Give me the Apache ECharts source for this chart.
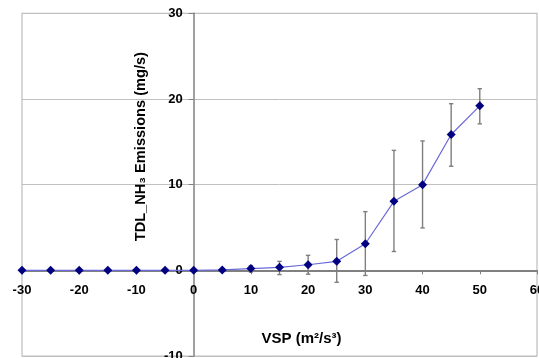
<!DOCTYPE html>
<html>
<head>
<meta charset="utf-8">
<script src="https://cdn.jsdelivr.net/npm/echarts@6/dist/echarts.min.js"></script>
<style>
  html, body { margin: 0; padding: 0; background: #fff; }
  #chart { width: 539px; height: 358px; }
</style>
</head>
<body>
<div id="chart"></div>
<script>
// VSP bins (m^2/s^3)
const vsp = [-30, -25, -20, -15, -10, -5, 0, 5, 10, 15, 20, 25, 30, 35, 40, 45, 50]
// mean NH3 emission per bin (mg/s)
const nh3Mean = [0, 0, 0, 0, 0, 0, 0, 0.05, 0.2, 0.35, 0.65, 1.05, 3.1, 8.05, 10.0, 15.85, 19.2]
// error bar ends (null where no bar is drawn)
const nh3Low = [null, null, null, null, null, null, null, -0.1, -0.2, -0.5, -0.45, -1.4, -0.6, 2.2, 4.95, 12.15, 17.1]
const nh3High = [null, null, null, null, null, null, null, 0.2, 0.55, 1.05, 1.75, 3.6, 6.85, 14.0, 15.1, 19.45, 21.2]

const font = "'Liberation Sans', Arial, sans-serif"
const chart = echarts.init(document.getElementById('chart'))

const lineData = vsp.map((x, i) => [x, nh3Mean[i]])
const barData = vsp
  .map((x, i) => [x, nh3Low[i], nh3High[i]])
  .filter(d => d[1] !== null)

// vertical error bar with small caps
function renderErrorBar(params, api) {
  const top = api.coord([api.value(0), api.value(2)])
  const bottom = api.coord([api.value(0), api.value(1)])
  const cap = 2.2
  const style = { stroke: '#7f7f7f', lineWidth: 1.4 }
  return {
    type: 'group',
    children: [
      { type: 'line', shape: { x1: top[0], y1: top[1], x2: bottom[0], y2: bottom[1] }, style },
      { type: 'line', shape: { x1: top[0] - cap, y1: top[1], x2: top[0] + cap, y2: top[1] }, style },
      { type: 'line', shape: { x1: bottom[0] - cap, y1: bottom[1], x2: bottom[0] + cap, y2: bottom[1] }, style }
    ]
  }
}

const option = {
  animation: false,
  backgroundColor: '#ffffff',
  grid: {
    left: 22,
    right: 2,
    top: 13.3,
    bottom: 2,
    outerBoundsMode: 'none',
    containLabel: false,
    show: true,
    borderColor: '#bdbdbd',
    borderWidth: 1.2
  },
  xAxis: {
    type: 'value',
    min: -30,
    max: 60,
    interval: 10,
    name: 'VSP (m²/s³)',
    nameLocation: 'middle',
    nameGap: 61,
    nameTextStyle: { fontFamily: font, fontWeight: 'bold', fontSize: 15, color: '#000', padding: [0, 0, 0, 44] },
    axisLine: { onZero: false, lineStyle: { color: '#808080', width: 2 } },
    axisTick: { length: 4, lineStyle: { color: '#808080' } },
    axisLabel: { margin: 14, fontFamily: font, fontWeight: 'bold', fontSize: 13, color: '#000' },
    splitLine: { show: false }
  },
  yAxis: {
    type: 'value',
    min: -10,
    max: 30,
    interval: 10,
    name: 'TDL_NH₃ Emissions (mg/s)',
    nameLocation: 'middle',
    nameGap: 45,
    nameTextStyle: { fontFamily: font, fontWeight: 'bold', fontSize: 14.6, color: '#000', padding: [0, 0, 0, 76] },
    axisLine: { onZero: false, lineStyle: { color: '#808080', width: 1.5 } },
    axisTick: { length: 5, lineStyle: { color: '#808080' } },
    axisLabel: { margin: 11, fontFamily: font, fontWeight: 'bold', fontSize: 13, color: '#000' },
    splitLine: { show: true, lineStyle: { color: '#c0c0c0', width: 1 } }
  },
  series: [
    {
      name: 'error',
      type: 'custom',
      renderItem: renderErrorBar,
      data: barData,
      encode: { x: 0, y: [1, 2] },
      z: 2
    },
    {
      name: 'NH3',
      type: 'line',
      data: lineData,
      symbol: 'diamond',
      symbolSize: 9,
      itemStyle: { color: '#000080' },
      lineStyle: { color: '#6a6ad8', width: 1.2 },
      z: 3
    }
  ]
}

chart.setOption(option)

// move both axes (line, ticks, labels) onto the zero crossing, like Excel does
const origin = chart.convertToPixel({ gridIndex: 0 }, [0, 0])
const corner = chart.convertToPixel({ gridIndex: 0 }, [-30, -10])
chart.setOption({
  xAxis: { offset: -(corner[1] - origin[1]) },
  yAxis: { offset: -(origin[0] - corner[0]) }
})
</script>
</body>
</html>
